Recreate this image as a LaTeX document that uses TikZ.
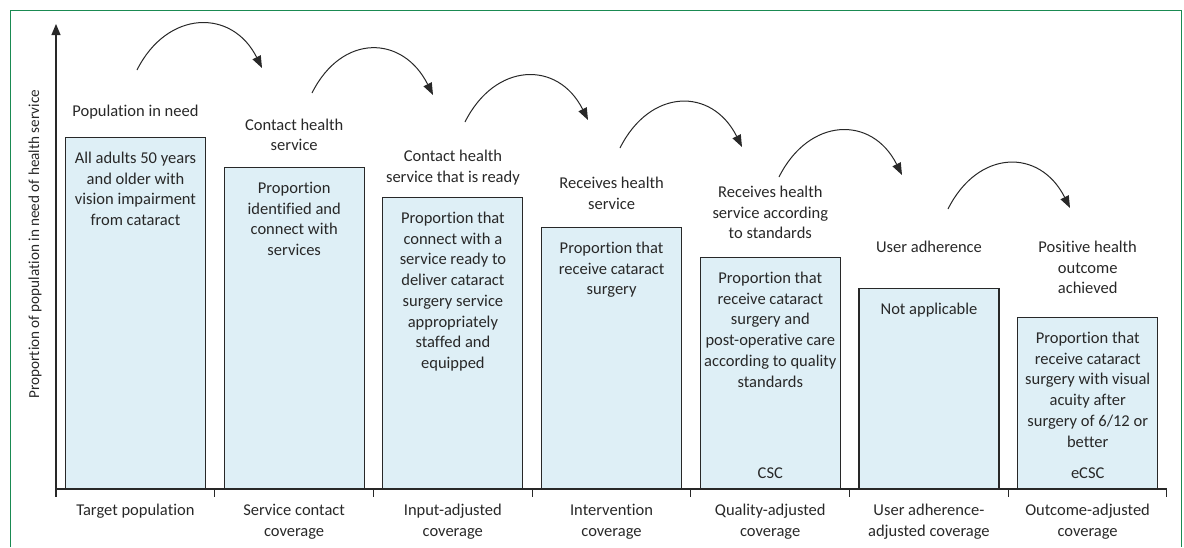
\documentclass[tikz,border=0pt]{standalone}
\usepackage{fontspec}
\setmainfont{Carlito}[Ligatures = NoCommon]
\usetikzlibrary{arrows.meta, positioning}
\definecolor{framegreen}{RGB}{26,138,82}
\definecolor{barblue}{RGB}{222,239,246}
\definecolor{ink}{RGB}{40,40,40}

\begin{document}
\begin{tikzpicture}[
  x = 1pt, y = -1pt,
  every node/.style = {inner sep = 0pt, align = center, text = ink,
    font = \fontsize{16.5}{20.7}\selectfont},
  bar/.style = {draw = ink, line width = 1.1pt, fill = barblue,
    anchor = south, minimum width = 140pt},
  hop/.style = {line width = 1pt, draw = ink,
    -{Triangle[length = 12pt, width = 9pt]}},
  axis/.style = {line width = 1.1pt, draw = ink}
]
\useasboundingbox (0,0) rectangle (1184,547);
\draw[framegreen, line width = 1pt] (10,547) -- (10,10) -- (1181,10) -- (1181,547);

% Axes
\coordinate (o) at (56,489);
\coordinate (ytop) at (56,24);
\coordinate (xend) at (1167,489);
\draw[axis, -{Triangle[length = 11pt, width = 9pt]}] (o) -- (ytop);
\draw[axis] (o) -- (xend);
\foreach \i in {0,...,7}
  \draw[axis] (56+158.7*\i,489) -- ++(0,8);
\node[rotate = 90, font = \fontsize{15.2}{18}\selectfont](ylab) at (35,244){Proportion of population in need of health service};

% Bars
\node[bar, minimum height = 351pt](b1) at (135.5,489){};
\node[bar, minimum height = 321pt](b2) at (294.2,489){};
\node[bar, minimum height = 291pt](b3) at (452.9,489){};
\node[bar, minimum height = 261pt](b4) at (611.6,489){};
\node[bar, minimum height = 231pt](b5) at (770.3,489){};
\node[bar, minimum height = 200pt](b6) at (929,489){};
\node[bar, minimum height = 171pt](b7) at (1087.7,489){};

% Text in bars
\node[below = 15pt of b1.north](t1){All adults 50 years\\and older with\\vision impairment\\from cataract};
\node[below = 15pt of b2.north](t2){Proportion\\identified and\\connect with\\services};
\node[below = 15pt of b3.north](t3){Proportion that\\connect with a\\service ready to\\deliver cataract\\surgery service\\appropriately\\staffed and\\equipped};
\node[below = 15pt of b4.north](t4){Proportion that\\receive cataract\\surgery};
\node[below = 15pt of b5.north](t5){Proportion that\\receive cataract\\surgery and\\post-operative care\\according to quality\\standards};
\node[below = 15pt of b6.north](t6){Not applicable};
\node[below = 15pt of b7.north](t7){Proportion that\\receive cataract\\surgery with visual\\acuity after\\surgery of 6/12 or\\better};
\node[above = 10pt of b5.south](q5){CSC};
\node[above = 10pt of b7.south](q7){eCSC};

% Headings
\node[above = 17.5pt of b1.north](h1){Population in need};
\node[above = 15.8pt of b2.north](h2){Contact health\\service};
\node[above = 11.5pt of b3.north](h3){Contact health\\service that is ready};
\node[above = 17.5pt of b4.north](h4){Receives health\\service};
\node[above = 17.8pt of b5.north](h5){Receives health\\service according\\to standards};
\node[above = 34.8pt of b6.north](h6){User adherence};
\node[above = 22.8pt of b7.north](h7){Positive health\\outcome\\achieved};

% Labels
\coordinate (c1) at (135.4,489);
\coordinate (c2) at (294.1,489);
\coordinate (c3) at (452.8,489);
\coordinate (c4) at (611.5,489);
\coordinate (c5) at (770.2,489);
\coordinate (c6) at (928.9,489);
\coordinate (c7) at (1087.6,489);
\node[below = 15pt of c1](l1){Target population};
\node[below = 15pt of c2](l2){Service contact\\coverage};
\node[below = 15pt of c3](l3){Input-adjusted\\coverage};
\node[below = 15pt of c4](l4){Intervention\\coverage};
\node[below = 15pt of c5](l5){Quality-adjusted\\coverage};
\node[below = 15pt of c6](l6){User adherence-\\adjusted coverage};
\node[below = 15pt of c7](l7){Outcome-adjusted\\coverage};

% Curved arrows
\coordinate (s1) at (137,70);  \coordinate (e1) at (262,68);
\coordinate (s2) at (312,93);  \coordinate (e2) at (433,95);
\coordinate (s3) at (465,122); \coordinate (e3) at (588,120);
\coordinate (s4) at (620,148); \coordinate (e4) at (742,147);
\coordinate (s5) at (779,177); \coordinate (e5) at (902,175);
\coordinate (s6) at (948,209); \coordinate (e6) at (1070,208);
\foreach \i in {1,...,6}
  \draw[hop] (s\i) .. controls +(30,-60) and +(-30,-60) .. (e\i);
\end{tikzpicture}
\end{document}
